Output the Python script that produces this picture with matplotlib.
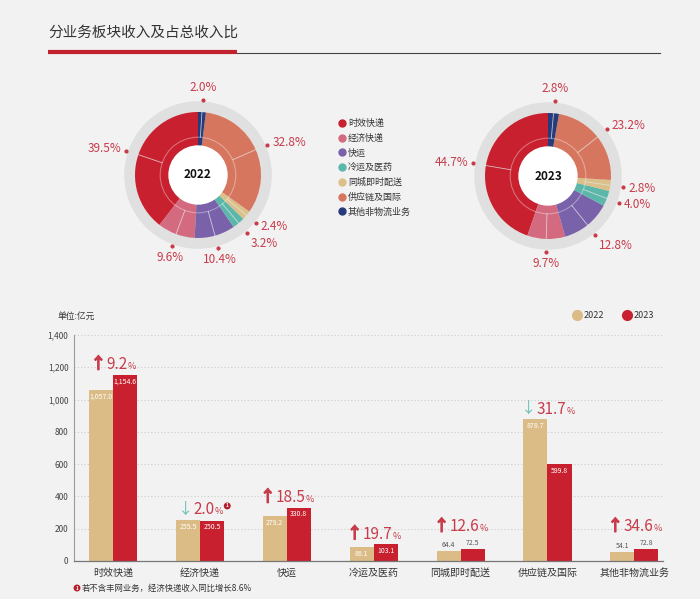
import numpy as np
import matplotlib
matplotlib.use('Agg')
import matplotlib.pyplot as plt
import matplotlib.patheffects as pe
from matplotlib.lines import Line2D
from matplotlib.patches import Circle

plt.rcParams['font.family'] = ['Noto Sans CJK SC', 'DejaVu Sans']

# ---- data ----
segments = ['时效快递', '经济快递', '快运', '冷运及医药',
            '同城即时配送', '供应链及国际', '其他非物流业务']
share_2022 = [39.5, 9.6, 10.4, 3.2, 2.4, 32.8, 2.0]
share_2023 = [44.7, 9.7, 12.8, 4.0, 2.8, 23.2, 2.8]

rev_2022 = [1057.0, 255.5, 279.2, 86.1, 64.4, 878.7, 54.1]
rev_2023 = [1154.6, 250.5, 330.8, 103.1, 72.5, 599.8, 72.8]
growth = [9.2, -2.0, 18.5, 19.7, 12.6, -31.7, 34.6]
y_ticks = [0, 200, 400, 600, 800, 1000, 1200, 1400]

# ---- style ----
W, H = 700, 599
BG = '#f2f2f2'
RING = '#e0e0e0'
PCT_RED = '#c83b4b'
TAN = '#dbbc86'
RED = '#c8202f'
TEAL = '#6cbfb5'
seg_colors = ['#c8202f', '#d36a7f', '#7a62ab', '#5cb7ab',
              '#dcc08a', '#d7765f', '#263b7b']

fig = plt.figure(figsize=(W / 100, H / 100), dpi=100, facecolor=BG)


def fx(px):
    return px / W


def fy(py):
    return 1 - py / H


# title + underline
fig.text(fx(48), fy(33), '分业务板块收入及占总收入比', fontsize=10.5,
         color='#333333', va='center', ha='left')
fig.add_artist(Line2D([fx(237), fx(660)], [fy(53), fy(53)],
                      color='#444444', lw=0.8))
fig.add_artist(Line2D([fx(48), fx(237)], [fy(52), fy(52)],
                      color='#c0232f', lw=3, solid_capstyle='butt'))

R = 63.0  # pixels per donut unit (outer radius of coloured ring)


def draw_donut(cx, cy, shares, year):
    size = 200
    ax = fig.add_axes([fx(cx - size / 2), fy(cy + size / 2),
                       size / W, size / H])
    ax.add_patch(Circle((0, 0), 1.16, color=RING, zorder=0))
    wedges, _ = ax.pie(shares, radius=1, startangle=90, counterclock=True,
                       colors=seg_colors,
                       wedgeprops=dict(width=0.54, edgecolor='none'))
    ax.add_patch(Circle((0, 0), 0.6, fill=False, ec='white', alpha=0.35,
                        lw=0.8, zorder=3))
    ax.add_patch(Circle((0, 0), 0.46, color='white', zorder=4))
    ax.text(0, 0, year, ha='center', va='center', fontsize=8.5,
            fontweight='bold', color='#111111', zorder=5)
    lim = size / 2 / R
    ax.set_xlim(-lim, lim)
    ax.set_ylim(-lim, lim)
    ax.set_aspect('equal')
    ax.axis('off')

    for wdg, v in zip(wedges, shares):
        th = np.radians((wdg.theta1 + wdg.theta2) / 2)
        c, s = np.cos(th), np.sin(th)
        ax.plot([0.6 * c, 1.2 * c], [0.6 * s, 1.2 * s], color='#e4e4e4',
                lw=0.6, alpha=0.8, zorder=3)
        ax.plot(1.2 * c, 1.2 * s, 'o', ms=2, color=PCT_RED, zorder=5)
        ha = 'left' if c > 0.4 else ('right' if c < -0.4 else 'center')
        va = 'bottom' if s > 0.75 else ('top' if s < -0.75 else 'center')
        ax.annotate(f'{v:.1f}%', xy=(1.2 * c, 1.2 * s),
                    xytext=(4 * c, 4 * s), textcoords='offset points',
                    ha=ha, va=va, fontsize=8.5, color=PCT_RED,
                    annotation_clip=False)


draw_donut(198, 175, share_2022, '2022')
draw_donut(548, 176, share_2023, '2023')

# segment legend between donuts
seg_handles = [Line2D([], [], marker='o', ls='', ms=5, color=c)
               for c in seg_colors]
fig.legend(seg_handles, segments, loc='upper left',
           bbox_to_anchor=(fx(338), fy(119)), frameon=False, fontsize=6.5,
           labelspacing=0.62, handletextpad=0.2, handlelength=0.9,
           borderpad=0, borderaxespad=0, labelcolor='#333333')

# ---- bar chart ----
ax = fig.add_axes([fx(74), fy(561), 589 / W, 226 / H])
ax.set_facecolor(BG)
x = np.arange(len(segments))
w = 0.277
bars22 = ax.bar(x - w / 2, rev_2022, w, color=TAN, zorder=2)
bars23 = ax.bar(x + w / 2, rev_2023, w, color=RED, zorder=2)

ax.set_xlim(-0.45, 6.33)
ax.set_ylim(0, 1400)
ax.set_yticks(y_ticks)
ax.set_yticklabels([f'{v:,}' for v in y_ticks])
ax.set_xticks(x)
ax.set_xticklabels(segments)
ax.yaxis.grid(True, ls=(0, (1, 2)), color='#cccccc', lw=0.8)
ax.set_axisbelow(True)
ax.tick_params(axis='y', length=0, pad=4, labelsize=6, labelcolor='#444444')
ax.tick_params(axis='x', length=0, pad=5, labelsize=7.2, labelcolor='#333333')
for side in ['top', 'right']:
    ax.spines[side].set_visible(False)
ax.spines['left'].set_color('#999999')
ax.spines['left'].set_linewidth(0.8)
ax.spines['bottom'].set_color('#777777')
ax.spines['bottom'].set_linewidth(0.9)

for bars, vals in [(bars22, rev_2022), (bars23, rev_2023)]:
    for b, v in zip(bars, vals):
        xc = b.get_x() + b.get_width() / 2
        if v < 80:
            ax.annotate(f'{v:,.1f}', xy=(xc, v), xytext=(0, 1.5),
                        textcoords='offset points', ha='center', va='bottom',
                        fontsize=5, color='#555555')
        else:
            ax.annotate(f'{v:,.1f}', xy=(xc, v), xytext=(0, -2),
                        textcoords='offset points', ha='center', va='top',
                        fontsize=5, color='white')

bold_arrow = [pe.withStroke(linewidth=1.1, foreground=PCT_RED)]
for i, g in enumerate(growth):
    top = max(rev_2022[i], rev_2023[i])
    lift = 1 if min(rev_2022[i], rev_2023[i]) >= 80 else 10
    num = ax.annotate(f'{abs(g):.1f}', xy=(i, top), xytext=(3, lift),
                      textcoords='offset points', ha='center', va='bottom',
                      fontsize=11, color=PCT_RED)
    if g > 0:
        ax.annotate('↑', xy=(0, 0.05), xycoords=num, xytext=(-0.5, 0),
                    textcoords='offset points', ha='right', va='bottom',
                    fontsize=11, color=PCT_RED, path_effects=bold_arrow)
    else:
        ax.annotate('↓', xy=(0, 0.05), xycoords=num, xytext=(-0.5, 0),
                    textcoords='offset points', ha='right', va='bottom',
                    fontsize=11, color=TEAL)
    pct = ax.annotate('%', xy=(1, 0.12), xycoords=num, ha='left',
                      va='bottom', fontsize=6.5, color=PCT_RED)
    if i == 1:
        ax.annotate('1', xy=(1, 1), xycoords=pct, xytext=(3, 1),
                    textcoords='offset points', ha='center', va='center',
                    fontsize=3.5, color='white', fontweight='bold',
                    bbox=dict(boxstyle='circle,pad=0.2', fc='#b51f2b',
                              ec='none'))

# unit label + year legend
fig.text(fx(57), fy(316), '单位:亿元', fontsize=6.3, color='#333333',
         va='center', ha='left')
yr_handles = [Line2D([], [], marker='o', ls='', ms=7, color=TAN),
              Line2D([], [], marker='o', ls='', ms=7, color=RED)]
fig.legend(yr_handles, ['2022', '2023'], loc='center left',
           bbox_to_anchor=(fx(572), fy(316)), ncol=2, frameon=False,
           fontsize=6.5, handletextpad=0.3, columnspacing=2.0,
           handlelength=1.0, borderpad=0, borderaxespad=0,
           labelcolor='#333333')

# footnote
fig.text(fx(77), fy(588), '1', fontsize=3.5, color='white',
         fontweight='bold', ha='center', va='center',
         bbox=dict(boxstyle='circle,pad=0.2', fc='#b51f2b', ec='none'))
fig.text(fx(82), fy(588), '若不含丰网业务，经济快递收入同比增长8.6%',
         fontsize=6, color='#333333', ha='left', va='center')

fig.savefig('out.png', dpi=100, facecolor=BG)
